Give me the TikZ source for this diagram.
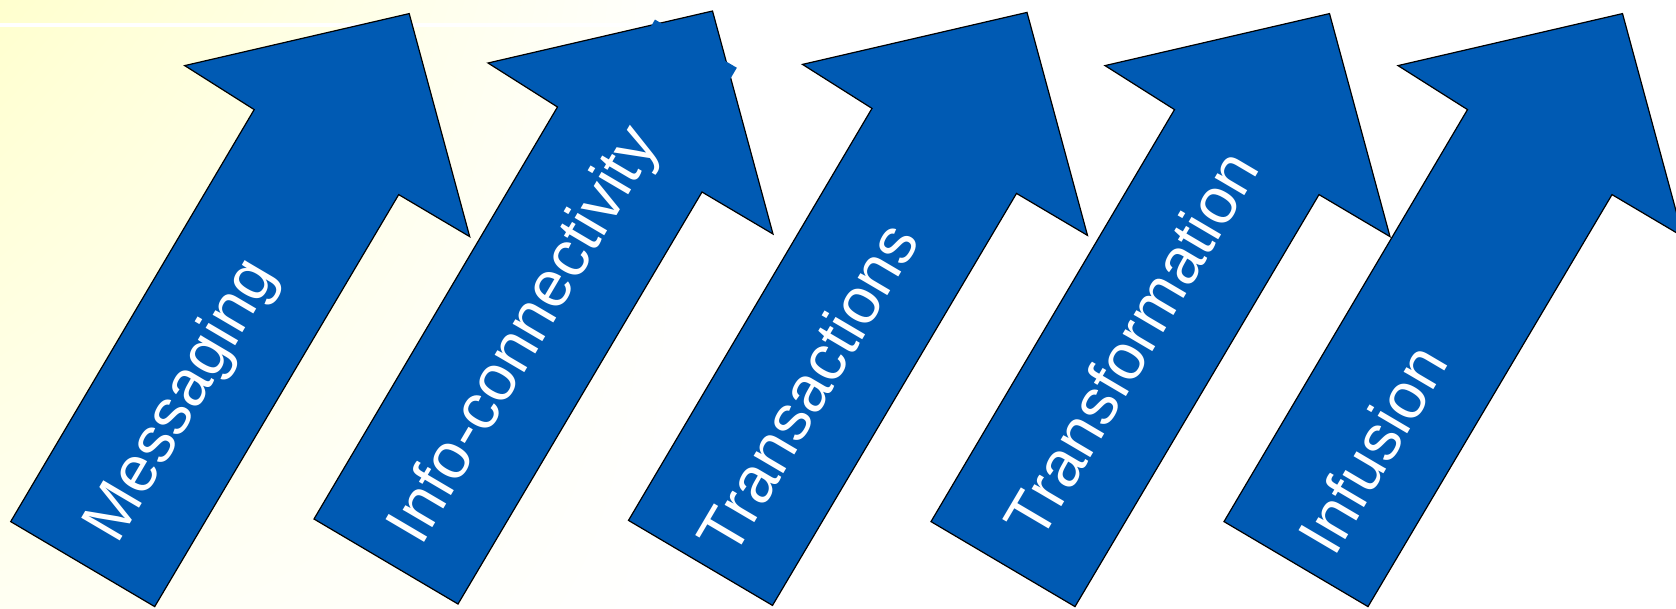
\documentclass[tikz,border=0pt]{standalone}
\usepackage{fontspec}
\setmainfont{Liberation Sans}
\usetikzlibrary{calc,shadings}
\definecolor{arrowblue}{RGB}{0,90,179}
\definecolor{bgyellow}{RGB}{255,255,206}
\tikzset{
  bigarrow/.style={draw=black, line width=1.2pt, fill=arrowblue, line join=miter},
  arrowtext/.style={text=white, rotate=59.5, inner sep=0pt, font=\fontsize{65}{65}\selectfont},
  textframe/.style={fill=arrowblue, rotate=59.5, inner sep=0pt}
}

\begin{document}
\begin{tikzpicture}[x=1pt,y=-1pt]
\useasboundingbox (0,0) rectangle (1676,608);
\fill[white] (0,0) rectangle (1676,608);
\shade[upper left=bgyellow, upper right=white, lower left=bgyellow!25!white, lower right=white] (0,0) rectangle (700,608);
\draw[white, line width=4pt] (0,25) -- (700,25);
% five arrows, same outline shifted along the row
\foreach \x/\y in {10.7/521.6, 314/519, 628.5/520.4, 931/521.6, 1224/521.6} {
\draw[bigarrow, shift={(\x,\y)}] (0,0) -- (144,85) -- (388,-327) -- (459,-285)
  -- (398.5,-508) -- (174,-456) -- (243.5,-412) -- cycle;
}
\node[textframe, anchor=east, minimum width=300pt, minimum height=95pt] (infoframe) at (696,43.5) {};
\foreach \cx/\cy/\name/\word in {182.8/401.4/msg/Messaging, 526/336.5/info/Info-connectivity,
  807/388/trans/Transactions, 1130.5/344/transf/Transformation, 1372/449/infus/Infusion} {
\node[arrowtext] (\name) at (\cx,\cy) {\word};
}
\end{tikzpicture}
\end{document}
